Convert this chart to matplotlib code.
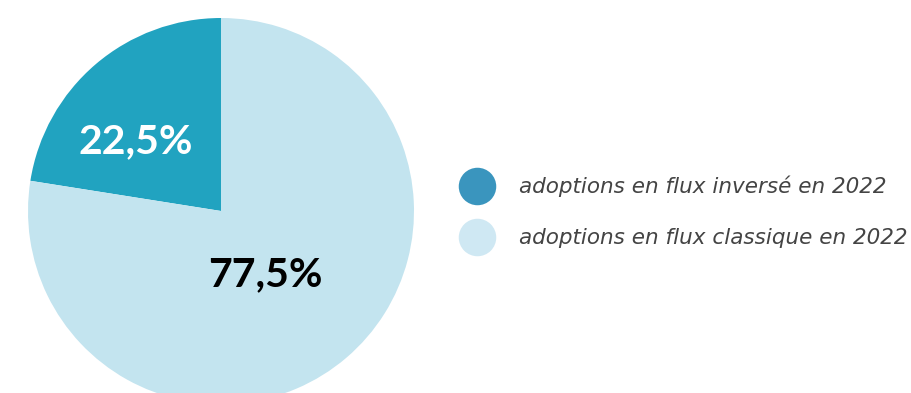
import numpy as np
import matplotlib.pyplot as plt
from matplotlib.lines import Line2D

# data
categories = ["adoptions en flux inversé en 2022", "adoptions en flux classique en 2022"]
shares = [22.5, 77.5]
pct_labels = ["22,5%", "77,5%"]

slice_colors = ["#21a3c0", "#c3e4ef"]
legend_colors = ["#3a95be", "#cfe8f3"]
label_colors = ["white", "black"]

W, H = 912, 393
fig = plt.figure(figsize=(W / 100, H / 100), dpi=100)
ax = fig.add_axes([0, 0, 1, 1])

cx, cy, r = 221, H - 211, 193
wedges, _ = ax.pie(shares, colors=slice_colors, startangle=90, counterclock=True,
                   center=(cx, cy), radius=r, frame=True,
                   wedgeprops=dict(linewidth=0))

# percentage labels, placed along each wedge's mid angle
label_pos = [(0.57, 141), (0.40, -55)]  # (radius fraction, angle in degrees)
for txt, col, (f, ang) in zip(pct_labels, label_colors, label_pos):
    a = np.deg2rad(ang)
    ax.text(cx + f * r * np.cos(a), cy + f * r * np.sin(a), txt,
            ha="center", va="center", fontsize=29.5, fontweight="bold",
            family="Lato", color=col)

ax.set_xlim(0, W)
ax.set_ylim(0, H)
ax.set_aspect("equal")
ax.axis("off")

handles = [Line2D([], [], marker="o", linestyle="", markersize=27,
                  markerfacecolor=c, markeredgewidth=0) for c in legend_colors]
leg = ax.legend(handles, categories, loc="center left",
                bbox_to_anchor=(445 / W, 1 - 212 / H), frameon=False,
                labelspacing=1.43, handletextpad=0.92, borderpad=0,
                prop=dict(family="DejaVu Sans", style="italic", size=15.5))
for t in leg.get_texts():
    t.set_color("#444444")

fig.savefig("out.png", dpi=100)
